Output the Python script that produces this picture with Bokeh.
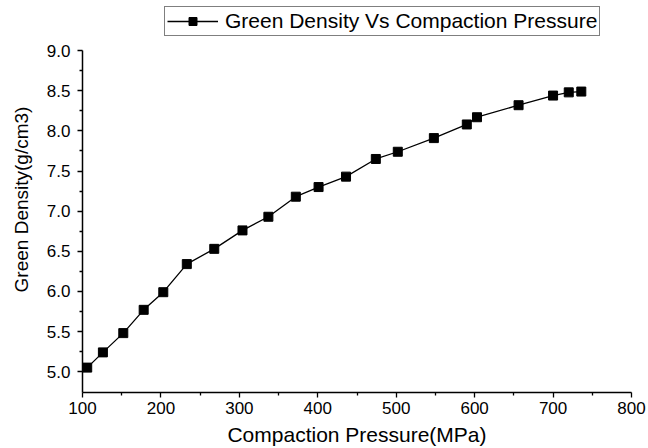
from bokeh.plotting import figure
from bokeh.models import ColumnDataSource, FixedTicker, Legend, LegendItem, Range1d
from bokeh.embed import file_html
from bokeh.resources import INLINE

pressure = [106, 126, 152, 178, 203, 233, 268, 304, 337, 372, 401, 436, 474,
            502, 548, 590, 603, 656, 700, 720, 736]
density = [5.05, 5.24, 5.48, 5.77, 5.99, 6.34, 6.53, 6.76, 6.93, 7.18, 7.30,
           7.43, 7.65, 7.74, 7.91, 8.08, 8.17, 8.32, 8.44, 8.48, 8.49]
x_ticks = [100, 200, 300, 400, 500, 600, 700, 800]
y_ticks = [5.0, 5.5, 6.0, 6.5, 7.0, 7.5, 8.0, 8.5, 9.0]
series_name = "Green Density Vs Compaction Pressure"
x_title = "Compaction Pressure(MPa)"
y_title = "Green Density(g/cm3)"

FONT = "Liberation Sans"

# frame extends above 9.0 so the legend (drawn inside the frame) can sit on top;
# the y axis line itself is bounded to the data axis range
p = figure(width=648, height=448, output_backend="svg", toolbar_location=None,
           x_range=Range1d(100, 800), y_range=Range1d(4.74, 9.55),
           min_border_left=82, min_border_right=17, min_border_top=6,
           min_border_bottom=54)
p.background_fill_color = "white"
p.border_fill_color = "white"
p.outline_line_color = None
p.grid.visible = False

src = ColumnDataSource(dict(x=pressure, y=density))
ln = p.line("x", "y", source=src, line_color="black", line_width=1.3)
mk = p.scatter("x", "y", source=src, marker="square", size=9,
               fill_color="black", line_color="black")

minor_x = [v + 50 for v in x_ticks[:-1]]
minor_y = [v + 0.25 for v in y_ticks[:-1]]
p.xaxis.ticker = FixedTicker(ticks=x_ticks, minor_ticks=minor_x)
p.yaxis.ticker = FixedTicker(ticks=y_ticks, minor_ticks=minor_y)
p.yaxis.major_label_overrides = {v: f"{v:.1f}" for v in y_ticks}
p.yaxis.bounds = (4.74, y_ticks[-1])

for ax in (p.xaxis[0], p.yaxis[0]):
    ax.axis_line_color = "black"
    ax.axis_line_width = 1.5
    ax.major_tick_line_color = "black"
    ax.major_tick_line_width = 1.3
    ax.minor_tick_line_color = "black"
    ax.minor_tick_line_width = 1.3
    ax.major_tick_out = 5
    ax.major_tick_in = 0
    ax.minor_tick_out = 3
    ax.minor_tick_in = 0
    ax.major_label_text_font = FONT
    ax.major_label_text_font_size = "17px"
    ax.major_label_text_color = "black"
    ax.axis_label_text_font = FONT
    ax.axis_label_text_font_style = "normal"
    ax.axis_label_text_color = "black"

p.xaxis.axis_label = x_title
p.yaxis.axis_label = y_title
p.xaxis.axis_label_text_font_size = "21px"
p.yaxis.axis_label_text_font_size = "19px"
p.xaxis.major_label_standoff = 4
p.yaxis.major_label_standoff = 7
p.xaxis.axis_label_standoff = 6
p.yaxis.axis_label_standoff = 12

legend = Legend(items=[LegendItem(label=series_name, renderers=[ln, mk])],
                location=(82, 356), orientation="horizontal")
legend.label_text_font = FONT
legend.label_text_font_size = "21px"
legend.label_text_color = "black"
legend.border_line_color = "black"
legend.border_line_width = 1
legend.background_fill_alpha = 1
legend.padding = 2
legend.spacing = 0
legend.glyph_width = 51
legend.glyph_height = 20
legend.label_height = 20
legend.label_standoff = 7
legend.margin = 0
p.add_layout(legend, "center")

open("out.html", "w").write(file_html(p, INLINE))
